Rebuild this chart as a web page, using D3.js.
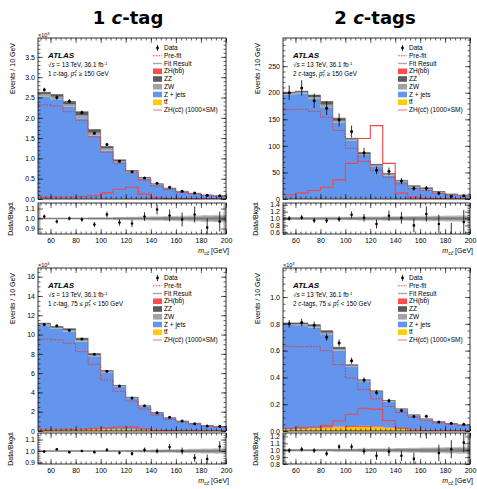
<!DOCTYPE html>
<html>
<head>
<meta charset="utf-8">
<script src="https://cdn.jsdelivr.net/npm/d3@7"></script>
<style>
body { margin: 0; background: #fff; }
svg { display: block; }
text { font-family: "Liberation Sans", Arial, sans-serif; fill: #000; }
</style>
</head>
<body>
<div class="canva"></div>
<script>
// bin lower edges, m_cc [GeV]
const bins = [50, 60, 70, 80, 90, 100, 110, 120, 130, 140, 150, 160, 170, 180, 190];

// ---- 1 c-tag, pTZ >= 150 GeV (x10^3 events)
const hi1Data    = [2.69, 2.50, 2.41, 2.13, 1.62, 1.34, 0.93, 0.67, 0.52, 0.39, 0.29, 0.19, 0.15, 0.091, 0.078];
const hi1DataErr = [0.05, 0.05, 0.049, 0.046, 0.04, 0.037, 0.03, 0.026, 0.023, 0.02, 0.017, 0.014, 0.012, 0.01, 0.009];
const hi1Ttbar   = [0.006, 0.006, 0.006, 0.005, 0.005, 0.004, 0.004, 0.003, 0.003, 0.002, 0.002, 0.001, 0.001, 0.001, 0.001];
const hi1Zhbb    = [0.002, 0.002, 0.003, 0.004, 0.006, 0.008, 0.01, 0.008, 0.004, 0.002, 0.001, 0.001, 0, 0, 0];
const hi1Zjets   = [2.51, 2.45, 2.26, 1.98, 1.55, 1.18, 0.89, 0.65, 0.49, 0.35, 0.25, 0.176, 0.131, 0.093, 0.075];
const hi1Zw      = [0.06, 0.06, 0.06, 0.07, 0.07, 0.05, 0.03, 0.02, 0.015, 0.01, 0.008, 0.006, 0.004, 0.003, 0.002];
const hi1Zz      = [0.05, 0.055, 0.07, 0.09, 0.08, 0.05, 0.03, 0.02, 0.015, 0.01, 0.008, 0.006, 0.004, 0.003, 0.002];
const hi1Prefit  = [2.32, 2.29, 2.15, 1.93, 1.53, 1.15, 0.88, 0.66, 0.47, 0.32, 0.23, 0.16, 0.13, 0.09, 0.07];
const hi1Signal  = [0.04, 0.05, 0.05, 0.06, 0.08, 0.15, 0.24, 0.29, 0.12, 0.03, 0.01, 0.005, 0.003, 0.002, 0.001];
const hi1Ratio   = [1.02, 0.97, 1.00, 0.99, 0.94, 1.04, 0.96, 0.95, 1.02, 1.09, 1.03, 0.99, 1.04, 0.91, 0.97];
const hi1RatioErr = [0.02, 0.02, 0.02, 0.022, 0.024, 0.028, 0.032, 0.037, 0.043, 0.05, 0.06, 0.07, 0.08, 0.09, 0.1];
const hi1BandIn  = [0.006, 0.006, 0.006, 0.006, 0.007, 0.008, 0.009, 0.01, 0.011, 0.012, 0.014, 0.016, 0.018, 0.02, 0.022];
const hi1BandOut = [0.01, 0.01, 0.01, 0.011, 0.012, 0.013, 0.015, 0.017, 0.019, 0.022, 0.025, 0.028, 0.031, 0.034, 0.038];

// ---- 2 c-tags, pTZ >= 150 GeV (events)
const hi2Data    = [200, 209, 185, 171, 149, 127, 87, 54, 52, 34, 20, 20, 11, 5, 6];
const hi2DataErr = [14, 14.5, 13.6, 13, 12.2, 11.3, 9.3, 7.3, 7.2, 5.8, 4.5, 4.5, 3.3, 2.2, 2.4];
const hi2Ttbar   = [0.3, 0.3, 0.4, 0.5, 0.5, 0.5, 0.4, 0.3, 0.3, 0.2, 0.2, 0.2, 0.2, 0.1, 0.1];
const hi2Zhbb    = [0.1, 0.1, 0.1, 0.1, 0.2, 0.3, 0.4, 0.3, 0.1, 0.1, 0.1, 0.1, 0.1, 0.1, 0.1];
const hi2Zjets   = [196, 198, 188, 172, 143, 109, 82, 61, 44, 32, 22, 18, 11.5, 7.8, 6.3];
const hi2Zw      = [2, 2, 3, 5, 3.5, 2, 2, 1.6, 1.7, 1.2, 1.2, 1.2, 1, 0.7, 0.5];
const hi2Zz      = [2.5, 2.5, 4, 6, 5, 2.5, 2.5, 2, 2, 1.5, 1.5, 1.5, 1.2, 0.8, 0.6];
const hi2Prefit  = [168, 169, 165, 154, 129, 95, 71, 54, 41, 28.5, 20, 16, 11, 8, 6];
const hi2Signal  = [8, 11, 16, 22, 36, 67, 114, 138, 67, 11, 3, 1.5, 1, 0.5, 0.5];
const hi2Ratio   = [1.00, 1.03, 0.94, 0.94, 0.98, 1.11, 1.02, 0.84, 1.08, 1.02, 0.80, 1.13, 0.84, 0.52, 0.90];
const hi2RatioErr = [0.07, 0.07, 0.07, 0.075, 0.08, 0.1, 0.11, 0.13, 0.15, 0.17, 0.2, 0.22, 0.27, 0.35, 0.35];
const hi2BandIn  = [0.03, 0.03, 0.03, 0.03, 0.032, 0.034, 0.036, 0.038, 0.04, 0.042, 0.044, 0.046, 0.048, 0.05, 0.052];
const hi2BandOut = [0.045, 0.045, 0.046, 0.048, 0.05, 0.053, 0.056, 0.06, 0.064, 0.068, 0.072, 0.077, 0.082, 0.087, 0.092];

// ---- 1 c-tag, 75 <= pTZ < 150 GeV (x10^3 events)
const lo1Data    = [11.04, 10.9, 10.45, 9.55, 7.96, 6.19, 4.67, 3.42, 2.62, 1.90, 1.42, 1.04, 0.75, 0.52, 0.48];
const lo1DataErr = [0.105, 0.104, 0.102, 0.098, 0.089, 0.079, 0.068, 0.059, 0.051, 0.044, 0.038, 0.032, 0.028, 0.022, 0.022];
const lo1Ttbar   = [0.15, 0.15, 0.16, 0.17, 0.18, 0.18, 0.17, 0.15, 0.12, 0.10, 0.08, 0.06, 0.05, 0.04, 0.03];
const lo1Zhbb    = [0.02, 0.02, 0.02, 0.03, 0.03, 0.04, 0.05, 0.04, 0.03, 0.02, 0.01, 0.01, 0.01, 0.005, 0.005];
const lo1Zjets   = [10.79, 10.42, 10.13, 9.08, 7.53, 5.84, 4.36, 3.21, 2.38, 1.74, 1.25, 0.93, 0.71, 0.495, 0.405];
const lo1Zw      = [0.12, 0.12, 0.14, 0.16, 0.14, 0.10, 0.07, 0.05, 0.04, 0.03, 0.02, 0.02, 0.015, 0.01, 0.01];
const lo1Zz      = [0.10, 0.12, 0.15, 0.18, 0.15, 0.10, 0.07, 0.05, 0.04, 0.03, 0.02, 0.02, 0.015, 0.01, 0.01];
const lo1Prefit  = [9.52, 9.45, 9.1, 8.23, 6.92, 5.29, 4.08, 3.11, 2.28, 1.65, 1.2, 0.95, 0.72, 0.5, 0.4];
const lo1Signal  = [0.12, 0.13, 0.15, 0.18, 0.24, 0.33, 0.42, 0.40, 0.20, 0.08, 0.04, 0.02, 0.01, 0.01, 0.005];
const lo1Ratio   = [0.995, 1.015, 0.99, 1.0, 0.99, 1.01, 0.985, 0.977, 1.01, 1.0, 1.035, 1.0, 0.94, 0.93, 1.04];
const lo1RatioErr = [0.01, 0.01, 0.01, 0.01, 0.011, 0.013, 0.015, 0.017, 0.02, 0.022, 0.026, 0.03, 0.034, 0.04, 0.045];
const lo1BandIn  = [0.004, 0.004, 0.004, 0.004, 0.004, 0.005, 0.005, 0.006, 0.007, 0.008, 0.009, 0.01, 0.011, 0.012, 0.013];
const lo1BandOut = [0.006, 0.006, 0.006, 0.006, 0.007, 0.008, 0.009, 0.01, 0.012, 0.014, 0.016, 0.018, 0.02, 0.022, 0.024];

// ---- 2 c-tags, 75 <= pTZ < 150 GeV (x10^3 events)
const lo2Data    = [0.80, 0.81, 0.789, 0.70, 0.657, 0.525, 0.38, 0.288, 0.226, 0.153, 0.108, 0.111, 0.067, 0.057, 0.051];
const lo2DataErr = [0.028, 0.028, 0.028, 0.026, 0.026, 0.023, 0.02, 0.017, 0.015, 0.012, 0.01, 0.01, 0.008, 0.0075, 0.007];
const lo2Ttbar   = [0.012, 0.015, 0.02, 0.025, 0.028, 0.03, 0.03, 0.028, 0.022, 0.015, 0.01, 0.008, 0.006, 0.004, 0.003];
const lo2Zhbb    = [0.002, 0.002, 0.003, 0.004, 0.005, 0.007, 0.009, 0.008, 0.004, 0.002, 0.001, 0.001, 0.001, 0, 0];
const lo2Zjets   = [0.778, 0.773, 0.749, 0.693, 0.568, 0.443, 0.333, 0.255, 0.195, 0.144, 0.106, 0.078, 0.061, 0.05, 0.041];
const lo2Zw      = [0.007, 0.008, 0.01, 0.012, 0.011, 0.007, 0.005, 0.004, 0.003, 0.002, 0.002, 0.002, 0.001, 0.001, 0.001];
const lo2Zz      = [0.008, 0.009, 0.012, 0.015, 0.013, 0.008, 0.006, 0.005, 0.004, 0.003, 0.002, 0.002, 0.001, 0.001, 0.001];
const lo2Prefit  = [0.632, 0.63, 0.632, 0.60, 0.495, 0.395, 0.308, 0.24, 0.183, 0.138, 0.104, 0.08, 0.06, 0.05, 0.04];
const lo2Signal  = [0.02, 0.025, 0.03, 0.04, 0.075, 0.125, 0.17, 0.163, 0.078, 0.02, 0.008, 0.004, 0.002, 0.001, 0.001];
const lo2Ratio   = [0.995, 1.015, 0.995, 0.95, 1.05, 1.05, 0.985, 0.92, 0.98, 0.92, 0.875, 1.27, 0.96, 1.015, 1.11];
const lo2RatioErr = [0.035, 0.035, 0.035, 0.037, 0.04, 0.045, 0.05, 0.06, 0.066, 0.076, 0.09, 0.1, 0.12, 0.13, 0.14];
const lo2BandIn  = [0.012, 0.012, 0.012, 0.013, 0.014, 0.015, 0.016, 0.017, 0.018, 0.02, 0.022, 0.024, 0.026, 0.028, 0.03];
const lo2BandOut = [0.018, 0.018, 0.019, 0.02, 0.021, 0.023, 0.025, 0.027, 0.03, 0.033, 0.036, 0.04, 0.044, 0.048, 0.052];

const legendLabels = ["Data", "Pre-fit", "Fit Result", "ZH(bb\u0304)", "ZZ", "ZW", "Z + jets", "tt\u0304", "ZH(cc\u0304) (1000\u00d7SM)"];
const keys = ["ttbar", "zhbb", "zjets", "zw", "zz"];
const colors = {ttbar: "#ffcc00", zhbb: "#ff4d4d", zjets: "#6495ed", zw: "#a3a3a3", zz: "#5c5c5c"};

const W = 477, H = 489;
const svg = d3.select(".canva").append("svg").attr("width", W).attr("height", H);

const panels = [
  {x0: 38, x1: 226, top: 38, bottom: 199, rTop: 203, rBottom: 234, yMax: 3.965,
   yTicks: [0, 0.5, 1, 1.5, 2, 2.5, 3, 3.5], yMinorStep: 0.1, fmt: d3.format(".1f"), x1e3: true,
   rDomain: [0.845, 1.155], rTicks: [0.9, 1.0, 1.1], rMinorStep: 0.02,
   tag: "1", tagWord: "-tag", region: "hi",
   data: hi1Data, err: hi1DataErr, ttbar: hi1Ttbar, zhbb: hi1Zhbb, zjets: hi1Zjets, zw: hi1Zw, zz: hi1Zz,
   prefit: hi1Prefit, signal: hi1Signal, ratio: hi1Ratio, rErr: hi1RatioErr, bIn: hi1BandIn, bOut: hi1BandOut},
  {x0: 283, x1: 470, top: 38, bottom: 199, rTop: 203, rBottom: 234, yMax: 303,
   yTicks: [0, 50, 100, 150, 200, 250], yMinorStep: 10, fmt: d3.format("d"), x1e3: false,
   rDomain: [0.55, 1.45], rTicks: [0.6, 0.8, 1.0, 1.2, 1.4], rMinorStep: 0.05,
   tag: "2", tagWord: "-tags", region: "hi",
   data: hi2Data, err: hi2DataErr, ttbar: hi2Ttbar, zhbb: hi2Zhbb, zjets: hi2Zjets, zw: hi2Zw, zz: hi2Zz,
   prefit: hi2Prefit, signal: hi2Signal, ratio: hi2Ratio, rErr: hi2RatioErr, bIn: hi2BandIn, bOut: hi2BandOut},
  {x0: 38, x1: 226, top: 268, bottom: 431, rTop: 433, rBottom: 464, yMax: 16.9,
   yTicks: [0, 2, 4, 6, 8, 10, 12, 14, 16], yMinorStep: 0.5, fmt: d3.format("d"), x1e3: true,
   rDomain: [0.887, 1.157], rTicks: [0.9, 1.0, 1.1], rMinorStep: 0.02,
   tag: "1", tagWord: "-tag", region: "lo",
   data: lo1Data, err: lo1DataErr, ttbar: lo1Ttbar, zhbb: lo1Zhbb, zjets: lo1Zjets, zw: lo1Zw, zz: lo1Zz,
   prefit: lo1Prefit, signal: lo1Signal, ratio: lo1Ratio, rErr: lo1RatioErr, bIn: lo1BandIn, bOut: lo1BandOut},
  {x0: 283, x1: 470, top: 268, bottom: 431, rTop: 433, rBottom: 464, yMax: 1.217,
   yTicks: [0, 0.2, 0.4, 0.6, 0.8, 1.0], yMinorStep: 0.05, fmt: d3.format(".1f"), x1e3: true,
   rDomain: [0.8, 1.25], rTicks: [0.8, 0.9, 1.0, 1.1, 1.2], rMinorStep: 0.02,
   tag: "2", tagWord: "-tags", region: "lo",
   data: lo2Data, err: lo2DataErr, ttbar: lo2Ttbar, zhbb: lo2Zhbb, zjets: lo2Zjets, zw: lo2Zw, zz: lo2Zz,
   prefit: lo2Prefit, signal: lo2Signal, ratio: lo2Ratio, rErr: lo2RatioErr, bIn: lo2BandIn, bOut: lo2BandOut}
];

// column titles
[{x: 128, n: "1", w: "-tag"}, {x: 375, n: "2", w: "-tags"}].forEach(t => {
  const tt = svg.append("text").attr("x", t.x).attr("y", 24).attr("text-anchor", "middle")
    .style("font-family", "'DejaVu Sans', sans-serif").style("font-weight", "bold").style("font-size", "18px");
  tt.append("tspan").text(t.n + " ");
  tt.append("tspan").style("font-style", "italic").text("c");
  tt.append("tspan").text(t.w);
});

const majorX = [60, 80, 100, 120, 140, 160, 180, 200];
const minorX = d3.range(52, 201, 4);

function steps(vals) {
  return bins.map((b, i) => ({x: b, v: vals[i]})).concat([{x: 200, v: vals[vals.length - 1]}]);
}

panels.forEach((p, pi) => {
  const g = svg.append("g");
  const x = d3.scaleLinear().domain([50, 200]).range([p.x0, p.x1]);
  const y = d3.scaleLinear().domain([0, p.yMax]).range([p.bottom, p.top]);
  const yr = d3.scaleLinear().domain(p.rDomain).range([p.rBottom, p.rTop]);

  const defs = g.append("defs");
  defs.append("clipPath").attr("id", "cm" + pi).append("rect")
    .attr("x", p.x0).attr("y", p.top).attr("width", p.x1 - p.x0).attr("height", p.bottom - p.top);
  defs.append("clipPath").attr("id", "cr" + pi).append("rect")
    .attr("x", p.x0).attr("y", p.rTop).attr("width", p.x1 - p.x0).attr("height", p.rBottom - p.rTop);

  // stacked backgrounds
  const rows = bins.map((b, i) => ({ttbar: p.ttbar[i], zhbb: p.zhbb[i], zjets: p.zjets[i], zw: p.zw[i], zz: p.zz[i]}));
  const series = d3.stack().keys(keys)(rows);
  const area = d3.area().x(d => x(d.x)).y0(d => y(d.y0)).y1(d => y(d.y1)).curve(d3.curveStepAfter);
  const main = g.append("g").attr("clip-path", `url(#cm${pi})`);
  series.forEach(s => {
    const pts = s.map((d, i) => ({x: bins[i], y0: d[0], y1: d[1]}));
    pts.push({x: 200, y0: pts[pts.length - 1].y0, y1: pts[pts.length - 1].y1});
    main.append("path").attr("d", area(pts)).attr("fill", colors[s.key]);
  });

  const line = d3.line().x(d => x(d.x)).y(d => y(d.v)).curve(d3.curveStepAfter);
  const total = series[series.length - 1].map(d => d[1]);
  main.append("path").attr("d", line(steps(total))).attr("fill", "none").attr("stroke", "#555").attr("stroke-width", 0.6);
  main.append("path").attr("d", line(steps(p.prefit))).attr("fill", "none")
    .attr("stroke", "#e8302a").attr("stroke-width", 0.9).attr("stroke-dasharray", "1.6,1.2");
  main.append("path").attr("d", line(steps(p.signal))).attr("fill", "none")
    .attr("stroke", "#f04545").attr("stroke-width", 1.1);

  // data points
  const pts = main.append("g");
  p.data.forEach((v, i) => {
    const cx = x(bins[i] + 5);
    pts.append("line").attr("x1", cx).attr("x2", cx).attr("y1", y(v - p.err[i])).attr("y2", y(v + p.err[i]))
      .attr("stroke", "#000").attr("stroke-width", 0.8);
    pts.append("circle").attr("cx", cx).attr("cy", y(v)).attr("r", 1.5).attr("fill", "#000");
  });

  // ratio panel
  const rp = g.append("g").attr("clip-path", `url(#cr${pi})`);
  const band = d3.area().x(d => x(d.x)).y0(d => yr(1 - d.v)).y1(d => yr(1 + d.v)).curve(d3.curveStepAfter);
  rp.append("path").attr("d", band(steps(p.bOut))).attr("fill", "#c4c4c4");
  rp.append("path").attr("d", band(steps(p.bIn))).attr("fill", "#8c8c8c");
  rp.append("line").attr("x1", p.x0).attr("x2", p.x1).attr("y1", yr(1)).attr("y2", yr(1))
    .attr("stroke", "#666").attr("stroke-width", 0.5);
  p.ratio.forEach((v, i) => {
    const cx = x(bins[i] + 5);
    rp.append("line").attr("x1", cx).attr("x2", cx).attr("y1", yr(v - p.rErr[i])).attr("y2", yr(v + p.rErr[i]))
      .attr("stroke", "#000").attr("stroke-width", 0.8);
    rp.append("circle").attr("cx", cx).attr("cy", yr(v)).attr("r", 1.3).attr("fill", "#000");
  });

  // frames
  [[p.top, p.bottom], [p.rTop, p.rBottom]].forEach(([t, b]) => {
    g.append("rect").attr("x", p.x0).attr("y", t).attr("width", p.x1 - p.x0).attr("height", b - t)
      .attr("fill", "none").attr("stroke", "#000").attr("stroke-width", 0.8);
  });

  // axes
  const ax = (sel, axis) => {
    const a = g.append("g").call(axis);
    a.select(".domain").remove();
    a.selectAll("line").attr("stroke", "#000").attr("stroke-width", 0.6);
    a.selectAll("text").style("font-size", "7px").style("font-family", "'Liberation Sans', Arial, sans-serif");
    return a;
  };
  const yMinor = d3.range(0, p.yMax, p.yMinorStep);
  const rMinor = d3.range(Math.ceil(p.rDomain[0] / p.rMinorStep) * p.rMinorStep, p.rDomain[1], p.rMinorStep);

  ax(g, d3.axisLeft(y).tickValues(p.yTicks).tickSize(-5).tickPadding(3).tickFormat(p.fmt)).attr("transform", `translate(${p.x0},0)`);
  ax(g, d3.axisLeft(y).tickValues(yMinor).tickSize(-2.5).tickFormat("")).attr("transform", `translate(${p.x0},0)`);
  ax(g, d3.axisRight(y).tickValues(p.yTicks).tickSize(-5).tickFormat("")).attr("transform", `translate(${p.x1},0)`);
  ax(g, d3.axisRight(y).tickValues(yMinor).tickSize(-2.5).tickFormat("")).attr("transform", `translate(${p.x1},0)`);

  ax(g, d3.axisLeft(yr).tickValues(p.rTicks).tickSize(-5).tickPadding(3).tickFormat(d3.format(".1f"))).attr("transform", `translate(${p.x0},0)`);
  ax(g, d3.axisLeft(yr).tickValues(rMinor).tickSize(-2.5).tickFormat("")).attr("transform", `translate(${p.x0},0)`);
  ax(g, d3.axisRight(yr).tickValues(p.rTicks).tickSize(-5).tickFormat("")).attr("transform", `translate(${p.x1},0)`);
  ax(g, d3.axisRight(yr).tickValues(rMinor).tickSize(-2.5).tickFormat("")).attr("transform", `translate(${p.x1},0)`);

  [[p.bottom, p.top], [p.rBottom, p.rTop]].forEach(([b, t], k) => {
    ax(g, d3.axisBottom(x).tickValues(majorX).tickSize(-5).tickPadding(4).tickFormat(k === 1 ? d3.format("d") : ""))
      .attr("transform", `translate(0,${b})`);
    ax(g, d3.axisBottom(x).tickValues(minorX).tickSize(-2.5).tickFormat("")).attr("transform", `translate(0,${b})`);
    ax(g, d3.axisTop(x).tickValues(majorX).tickSize(-5).tickFormat("")).attr("transform", `translate(0,${t})`);
    ax(g, d3.axisTop(x).tickValues(minorX).tickSize(-2.5).tickFormat("")).attr("transform", `translate(0,${t})`);
  });

  // axis titles
  g.append("text").attr("transform", `translate(${p.x0 - 23},${p.top + 5}) rotate(-90)`)
    .attr("text-anchor", "end").style("font-size", "7px").text("Events / 10 GeV");
  g.append("text").attr("transform", `translate(${p.x0 - 25},${(p.rTop + p.rBottom) / 2}) rotate(-90)`)
    .attr("text-anchor", "middle").style("font-size", "7px").text("Data/Bkgd.");
  const xt = g.append("text").attr("x", p.x1 + 3).attr("y", p.rBottom + 19).attr("text-anchor", "end").style("font-size", "7px");
  xt.append("tspan").style("font-style", "italic").text("m");
  xt.append("tspan").style("font-style", "italic").style("font-size", "5px").attr("dy", 1.6).text("cc\u0304");
  xt.append("tspan").attr("dy", -1.6).text(" [GeV]");

  if (p.x1e3) {
    const e = g.append("text").attr("x", p.x0).attr("y", p.top - 1).style("font-size", "5.5px");
    e.append("tspan").text("\u00d710");
    e.append("tspan").attr("dy", -2).style("font-size", "4px").text("3");
  }

  // ATLAS label block
  g.append("text").attr("x", p.x0 + 10).attr("y", p.top + 20)
    .style("font-size", "8px").style("font-weight", "bold").style("font-style", "italic").text("ATLAS");
  const l2 = g.append("text").attr("x", p.x0 + 10).attr("y", p.top + 29).style("font-size", "6.3px");
  l2.append("tspan").text("\u221a");
  l2.append("tspan").style("font-style", "italic").text("s");
  l2.append("tspan").text(" = 13 TeV, 36.1 fb");
  l2.append("tspan").attr("dy", -2.3).style("font-size", "4.3px").text("-1");
  const l3 = g.append("text").attr("x", p.x0 + 10).attr("y", p.top + 37.5).style("font-size", "6.3px");
  l3.append("tspan").text(p.tag + " ");
  l3.append("tspan").style("font-style", "italic").text("c");
  l3.append("tspan").text(p.tagWord + ", " + (p.region === "lo" ? "75 \u2264 " : ""));
  l3.append("tspan").style("font-style", "italic").text("p");
  l3.append("tspan").attr("dy", -2.4).style("font-size", "4.3px").style("font-style", "italic").text("Z");
  l3.append("tspan").attr("dx", -2.6).attr("dy", 4).style("font-size", "4.3px").text("T");
  l3.append("tspan").attr("dy", -1.6).text(p.region === "lo" ? " < 150 GeV" : " \u2265 150 GeV");

  // legend
  const lg = g.append("g");
  const sx = p.x0 + 115, tx = p.x0 + 126;
  legendLabels.forEach((lab, k) => {
    const cy = p.top + 10 + k * 7.75;
    if (k === 0) {
      lg.append("line").attr("x1", sx + 4.5).attr("x2", sx + 4.5).attr("y1", cy - 3).attr("y2", cy + 3)
        .attr("stroke", "#000").attr("stroke-width", 0.8);
      lg.append("circle").attr("cx", sx + 4.5).attr("cy", cy).attr("r", 1.4).attr("fill", "#000");
    } else if (k === 1) {
      lg.append("line").attr("x1", sx).attr("x2", sx + 9).attr("y1", cy).attr("y2", cy)
        .attr("stroke", "#e8302a").attr("stroke-width", 0.9).attr("stroke-dasharray", "1.6,1.2");
    } else if (k === 2) {
      lg.append("line").attr("x1", sx).attr("x2", sx + 9).attr("y1", cy).attr("y2", cy)
        .attr("stroke", "#a8a8a8").attr("stroke-width", 1.4);
    } else if (k === 8) {
      lg.append("line").attr("x1", sx).attr("x2", sx + 9).attr("y1", cy).attr("y2", cy)
        .attr("stroke", "#f59a9a").attr("stroke-width", 1.4);
    } else {
      const key = ["zhbb", "zz", "zw", "zjets", "ttbar"][k - 3];
      lg.append("rect").attr("x", sx).attr("y", cy - 2.8).attr("width", 9).attr("height", 5.6).attr("fill", colors[key]);
    }
    lg.append("text").attr("x", tx).attr("y", cy + 2.2).style("font-size", "6.5px").text(lab);
  });
});
</script>
</body>
</html>
